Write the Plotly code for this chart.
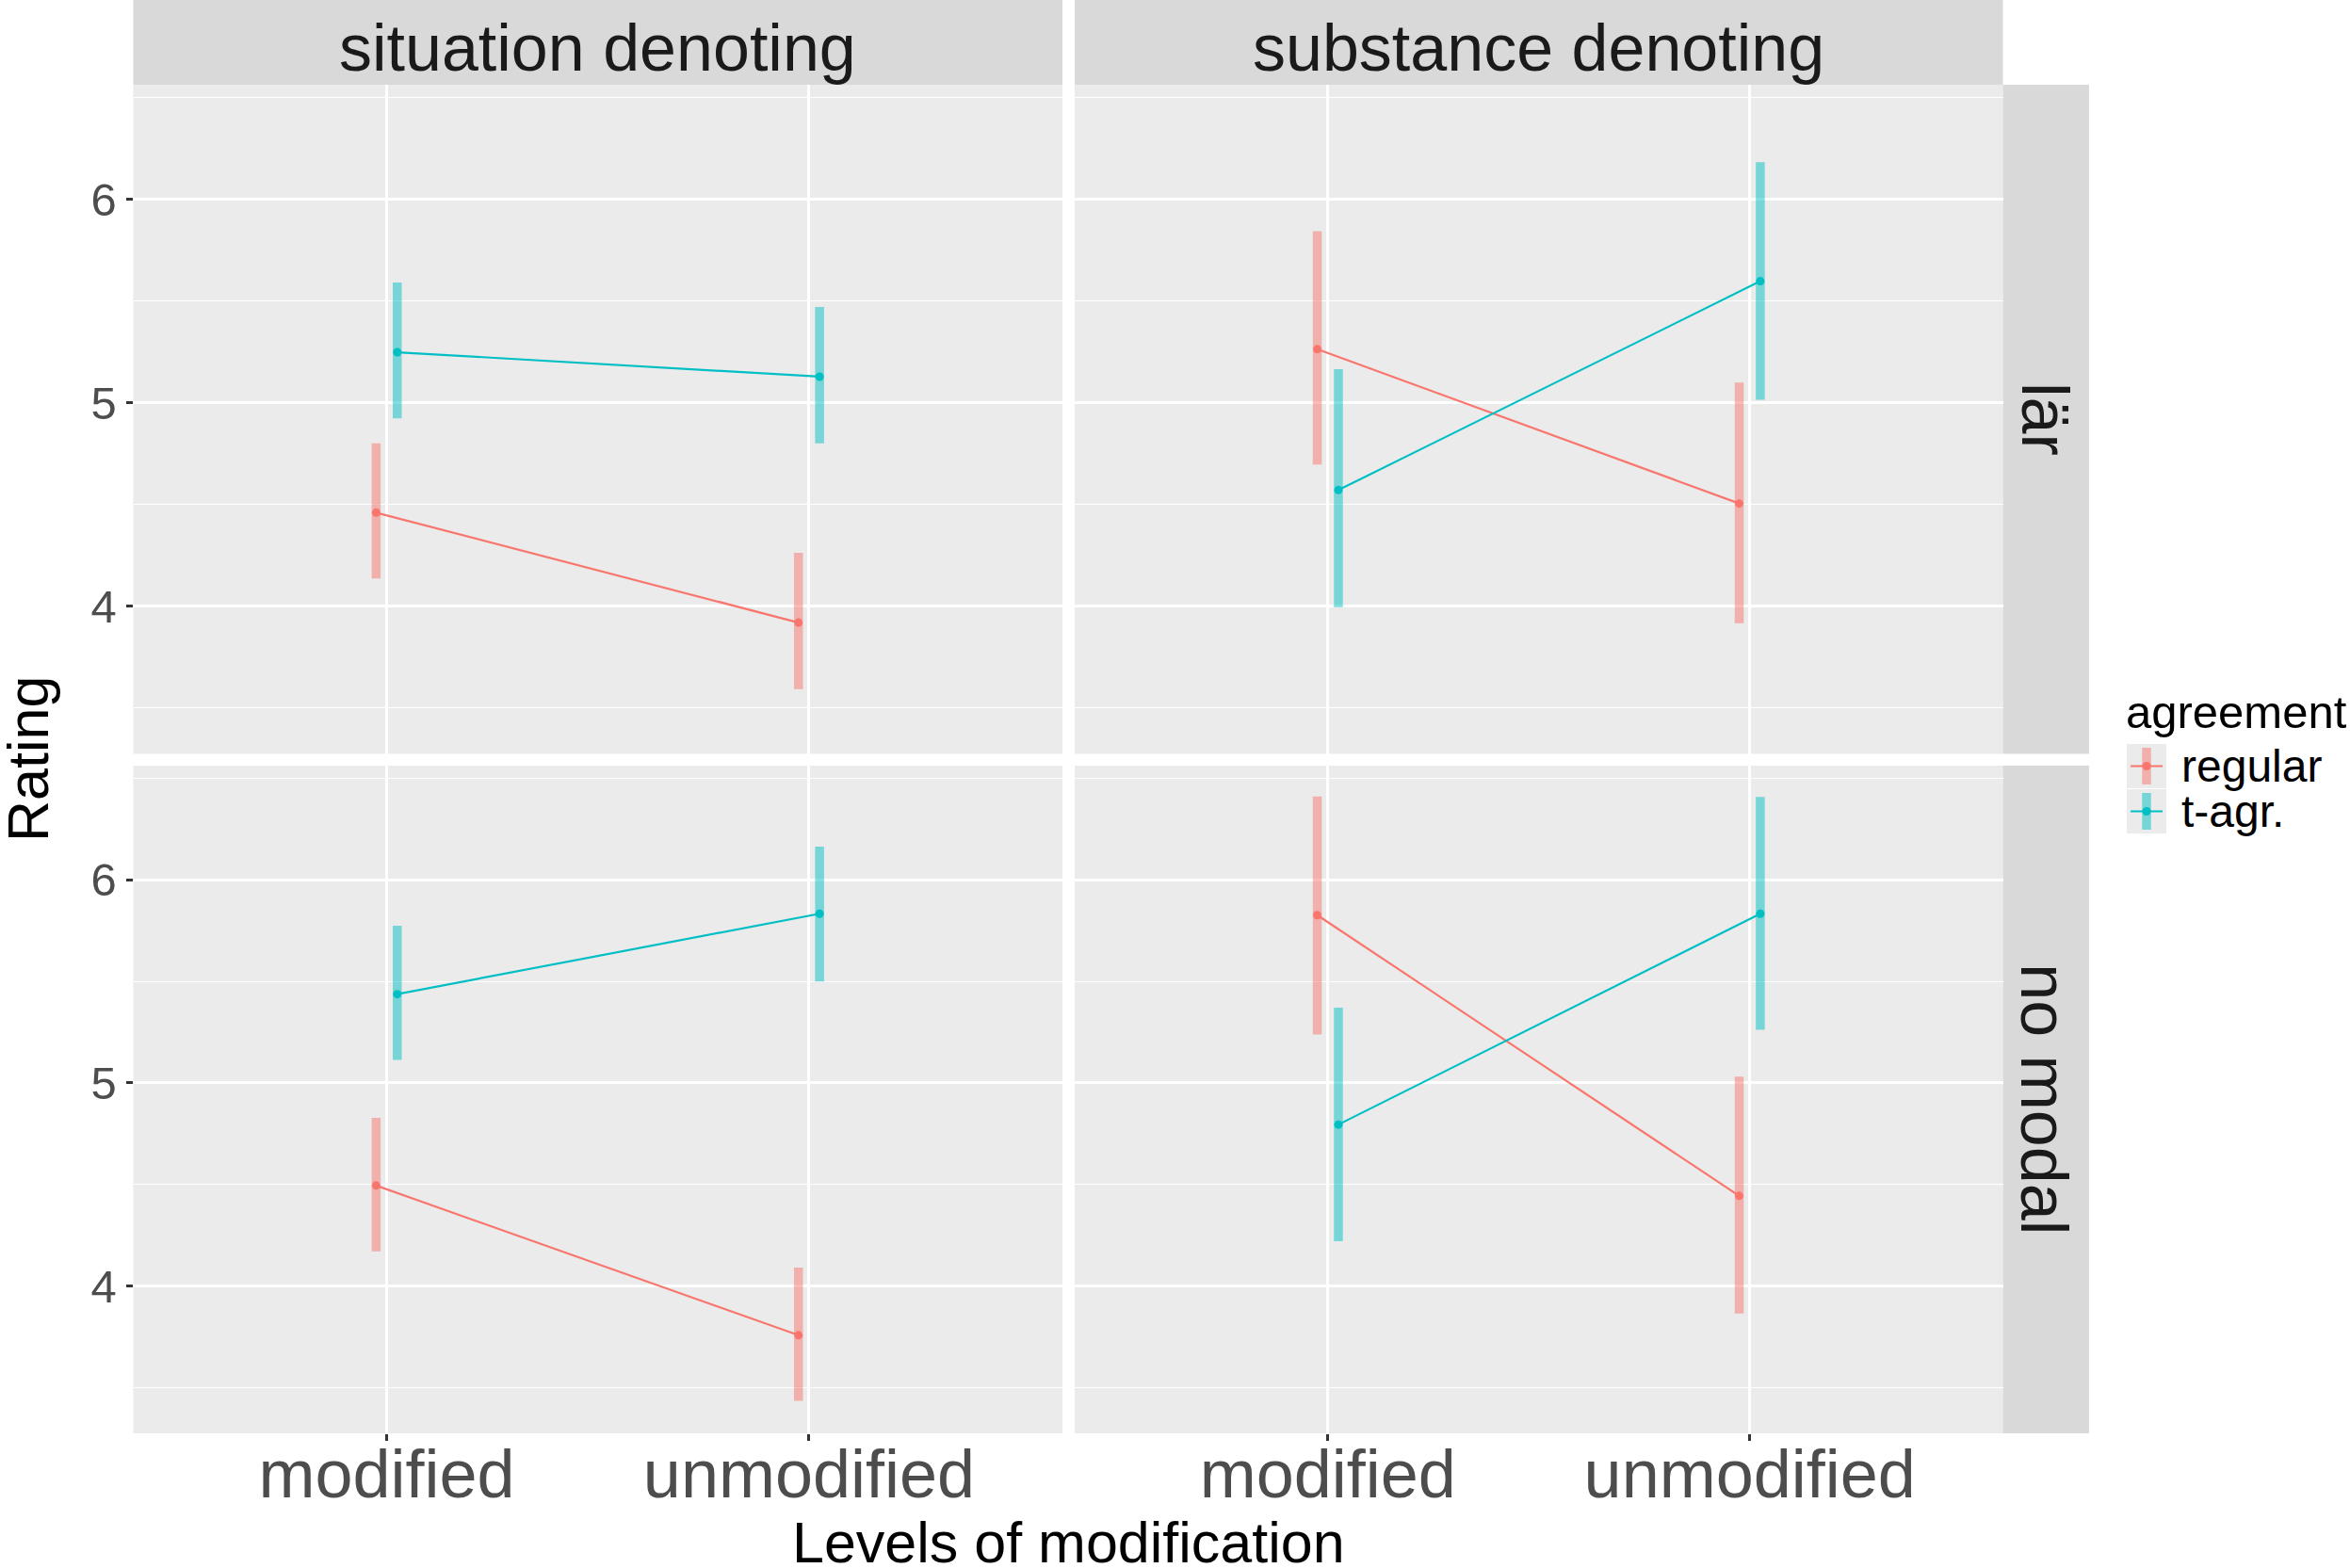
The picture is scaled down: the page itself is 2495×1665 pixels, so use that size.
import plotly.graph_objects as go

# ---------------- data ----------------
levels = ['modified', 'unmodified']
agreement = ['regular', 't-agr.']
noun_types = ['situation denoting', 'substance denoting']
modals = ['lär', 'no modal']

# panel order: (situation, lär), (substance, lär), (situation, no modal), (substance, no modal)
regular_mean = [[4.46, 3.92], [5.263, 4.505], [4.495, 3.758], [5.826, 4.444]]
regular_lo = [[4.137, 3.593], [4.697, 3.917], [4.171, 3.435], [5.238, 3.865]]
regular_hi = [[4.80, 4.263], [5.843, 5.099], [4.828, 4.091], [6.41, 5.031]]
tagr_mean = [[5.248, 5.128], [4.571, 5.597], [5.437, 5.833], [4.795, 5.833]]
tagr_lo = [[4.923, 4.801], [3.995, 5.014], [5.113, 5.499], [4.221, 5.262]]
tagr_hi = [[5.591, 5.47], [5.165, 6.181], [5.774, 6.163], [5.37, 6.408]]

y_ticks = [4, 5, 6]

# ---------------- style ----------------
W, H = 2495, 1665
FONT = 'Liberation Sans'
RED, TEAL = '#F8766D', '#00BFC4'
RED_A, TEAL_A = 'rgba(248,118,109,0.5)', 'rgba(0,191,196,0.5)'
PANEL_BG = '#EBEBEB'
STRIP_BG = '#D9D9D9'

cols_px = [(141.5, 1128.0), (1141.0, 2126.5)]
rows_px = [(90.0, 800.5), (813.0, 1522.0)]
right_strip_px = (2126.5, 2218.0)
top_strip_px = (0.0, 90.0)


def px(x):
    return x / W


def py(y):
    return 1 - y / H


fig = go.Figure()

series = [
    (agreement[0], regular_mean, regular_lo, regular_hi, RED, RED_A, -0.025),
    (agreement[1], tagr_mean, tagr_lo, tagr_hi, TEAL, TEAL_A, 0.025),
]

layout_axes = {}
for r in range(2):
    for c in range(2):
        k = r * 2 + c
        n = k + 1
        sfx = '' if n == 1 else str(n)
        for name, mean, lo, hi, col, cola, off in series:
            xs = [i + 1 + off for i in range(len(levels))]
            m = mean[k]
            fig.add_trace(go.Scatter(
                x=xs, y=m, mode='lines+markers', name=name, showlegend=False,
                xaxis='x' + sfx, yaxis='y' + sfx,
                line=dict(color=col, width=2.2),
                marker=dict(color=col, size=9),
                error_y=dict(type='data', symmetric=False,
                             array=[hi[k][i] - m[i] for i in range(len(m))],
                             arrayminus=[m[i] - lo[k][i] for i in range(len(m))],
                             color=cola, thickness=9.5, width=0),
                hoverinfo='skip'))
        x0, x1 = cols_px[c]
        y0, y1 = rows_px[r]
        bottom = (r == 1)
        left = (c == 0)
        layout_axes['xaxis' + sfx] = dict(
            domain=[px(x0), px(x1)], range=[0.4, 2.6], anchor='y' + sfx,
            tickmode='array', tickvals=[1, 2], ticktext=levels,
            showgrid=True, gridcolor='white', gridwidth=2.6, zeroline=False,
            showline=False, ticks='outside' if bottom else '', ticklen=7,
            tickwidth=2.5, tickcolor='#333333', showticklabels=bottom,
            ticklabelstandoff=-26,
            tickfont=dict(family=FONT, size=72, color='#4D4D4D'),
            fixedrange=True)
        layout_axes['yaxis' + sfx] = dict(
            domain=[py(y1), py(y0)], range=[3.275, 6.562], anchor='x' + sfx,
            tickmode='array', tickvals=y_ticks,
            showgrid=True, gridcolor='white', gridwidth=2.6, zeroline=False,
            showline=False, ticks='outside' if left else '', ticklen=7,
            tickwidth=2.5, tickcolor='#333333', showticklabels=left,
            tickfont=dict(family=FONT, size=49, color='#4D4D4D'),
            minor=dict(dtick=0.5, tick0=0, showgrid=True, gridcolor='white',
                       gridwidth=1.3),
            fixedrange=True)

shapes = []
annotations = []

# top strips
for c in range(2):
    x0, x1 = cols_px[c]
    shapes.append(dict(type='rect', xref='paper', yref='paper',
                       x0=px(x0), x1=px(x1), y0=py(top_strip_px[1]), y1=py(top_strip_px[0]),
                       fillcolor=STRIP_BG, line=dict(width=0), layer='below'))
    annotations.append(dict(xref='paper', yref='paper', x=px((x0 + x1) / 2),
                            y=py(51), text=noun_types[c],
                            showarrow=False, xanchor='center', yanchor='middle',
                            font=dict(family=FONT, size=70, color='#1A1A1A')))
# right strips
for r in range(2):
    y0, y1 = rows_px[r]
    shapes.append(dict(type='rect', xref='paper', yref='paper',
                       x0=px(right_strip_px[0]), x1=px(right_strip_px[1]),
                       y0=py(y1), y1=py(y0),
                       fillcolor=STRIP_BG, line=dict(width=0), layer='below'))
    annotations.append(dict(xref='paper', yref='paper', x=px(sum(right_strip_px) / 2 - 2),
                            y=py((y0 + y1) / 2), text=modals[r], textangle=90,
                            showarrow=False, xanchor='center', yanchor='middle',
                            font=dict(family=FONT, size=70, color='#1A1A1A')))

# axis titles
annotations.append(dict(xref='paper', yref='paper', x=px((cols_px[0][0] + cols_px[1][1]) / 2),
                        y=py(1638), text='Levels of modification', showarrow=False,
                        xanchor='center', yanchor='middle',
                        font=dict(family=FONT, size=61, color='black')))
annotations.append(dict(xref='paper', yref='paper', x=px(30),
                        y=py((rows_px[0][0] + rows_px[1][1]) / 2), text='Rating',
                        textangle=-90, showarrow=False, xanchor='center', yanchor='middle',
                        font=dict(family=FONT, size=61, color='black')))

# legend (drawn manually)
annotations.append(dict(xref='paper', yref='paper', x=px(2255), y=py(756),
                        text='agreement', showarrow=False, xanchor='left', yanchor='middle',
                        font=dict(family=FONT, size=49, color='black')))
key_x0, key_x1 = 2258, 2300
key_rows = [(790, 837), (838, 885)]
for (name, mean, lo, hi, col, cola, off), (ky0, ky1) in zip(series, key_rows):
    kc = (ky0 + ky1) / 2
    xc = (key_x0 + key_x1) / 2
    shapes.append(dict(type='rect', xref='paper', yref='paper',
                       x0=px(key_x0), x1=px(key_x1), y0=py(ky1), y1=py(ky0),
                       fillcolor='#EBEBEB', line=dict(width=0)))
    shapes.append(dict(type='rect', xref='paper', yref='paper',
                       x0=px(xc - 4.75), x1=px(xc + 4.75), y0=py(ky1 - 4), y1=py(ky0 + 4),
                       fillcolor=cola, line=dict(width=0)))
    shapes.append(dict(type='line', xref='paper', yref='paper',
                       x0=px(key_x0 + 4), x1=px(key_x1 - 4), y0=py(kc), y1=py(kc),
                       line=dict(color=col, width=2.2)))
    shapes.append(dict(type='circle', xref='paper', yref='paper',
                       x0=px(xc - 4.5), x1=px(xc + 4.5), y0=py(kc + 4.5), y1=py(kc - 4.5),
                       fillcolor=col, line=dict(width=0)))
    annotations.append(dict(xref='paper', yref='paper', x=px(2314), y=py(kc),
                            text=name, showarrow=False, xanchor='left', yanchor='middle',
                            font=dict(family=FONT, size=48, color='black')))

fig.update_layout(
    width=W, height=H,
    margin=dict(l=0, r=0, t=0, b=0, pad=0),
    paper_bgcolor='white', plot_bgcolor=PANEL_BG,
    showlegend=False,
    font=dict(family=FONT),
    shapes=shapes, annotations=annotations,
    **layout_axes)

fig.write_html('out.html', config={'displayModeBar': False},
               post_script="document.body.style.margin='0';document.body.style.overflow='hidden';")
